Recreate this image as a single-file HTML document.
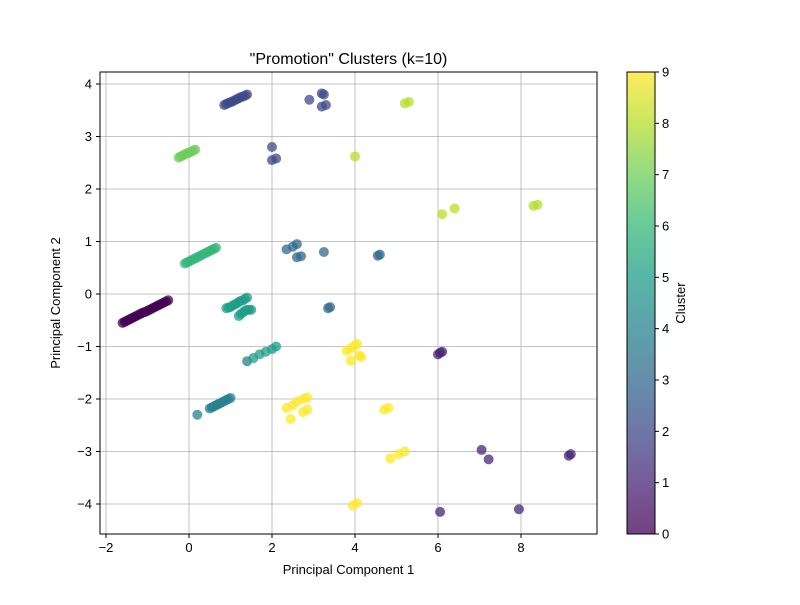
<!DOCTYPE html>
<html><head><meta charset="utf-8"><style>
body{margin:0;background:#fff;}
svg text{font-family:"Liberation Sans",sans-serif;fill:#000;}
</style></head><body>
<svg id="chart" width="800" height="600" viewBox="0 0 800 600" xmlns="http://www.w3.org/2000/svg">
<defs>
<linearGradient id="vir" x1="0" y1="1" x2="0" y2="0">
<stop offset="0" stop-color="#440154"/><stop offset="0.111" stop-color="#482576"/>
<stop offset="0.222" stop-color="#3e4989"/><stop offset="0.333" stop-color="#31688e"/>
<stop offset="0.444" stop-color="#26828e"/><stop offset="0.556" stop-color="#1f9e89"/>
<stop offset="0.667" stop-color="#35b779"/><stop offset="0.778" stop-color="#6ece58"/>
<stop offset="0.889" stop-color="#b5de2b"/><stop offset="1" stop-color="#fde725"/>
</linearGradient>
</defs>
<text x="348.5" y="64" font-size="16" text-anchor="middle">"Promotion" Clusters (k=10)</text>
<g id="grid"></g>
<g id="marks"></g>
<rect x="100" y="72" width="497" height="462" fill="none" stroke="#000" stroke-width="1"/>
<g id="axes"></g>
<text x="348.5" y="574" font-size="13" text-anchor="middle">Principal Component 1</text>
<text transform="translate(60,303) rotate(-90)" font-size="13" text-anchor="middle">Principal Component 2</text>
<rect x="627" y="72" width="28" height="462" fill="url(#vir)" fill-opacity="0.75" stroke="#000" stroke-width="1"/>
<g id="cbticks"></g>
<text transform="translate(685,303) rotate(-90)" font-size="13" text-anchor="middle">Cluster</text>
</svg>
<script>
const xTicks=[-2,0,2,4,6,8];
const yTicks=[-4,-3,-2,-1,0,1,2,3,4];
const cbTicks=[0,1,2,3,4,5,6,7,8,9];
const palette=["#440154","#482576","#3e4989","#31688e","#26828e","#1f9e89","#35b779","#6ece58","#b5de2b","#fde725"];
const px=[-1.6,-1.55,-1.5,-1.45,-1.4,-1.35,-1.3,-1.25,-1.2,-1.15,-1.1,-1.05,-1.0,-0.95,-0.9,-0.85,-0.8,-0.75,-0.7,-0.65,-0.6,-0.55,-0.5,
6.0,6.05,6.1,7.05,7.22,9.15,9.2,6.05,7.95,
0.85,0.9,0.95,1.0,1.05,1.1,1.15,1.2,1.25,1.3,1.35,1.4,2.0,2.0,2.1,2.9,3.2,3.25,3.2,3.3,
2.35,2.5,2.6,2.6,2.7,3.25,3.35,3.4,4.55,4.6,
0.5,0.55,0.6,0.65,0.7,0.75,0.8,0.85,0.9,0.95,1.0,0.2,1.4,
0.9,0.95,1.0,1.05,1.1,1.15,1.2,1.25,1.3,1.35,1.4,1.2,1.25,1.3,1.35,1.4,1.45,1.5,1.55,1.7,1.85,2.0,2.1,
-0.1,-0.05,0.0,0.05,0.1,0.15,0.2,0.25,0.3,0.35,0.4,0.45,0.5,0.55,0.6,0.65,
-0.25,-0.2,-0.15,-0.1,-0.05,0.0,0.05,0.1,0.15,
5.2,5.3,4.0,6.1,6.4,8.3,8.4,
3.8,3.9,4.0,4.05,3.9,4.1,4.15,2.35,2.5,2.6,2.75,2.85,2.45,2.75,2.85,4.7,4.8,4.85,5.05,5.2,3.95,4.05];
const py=[-0.55,-0.53,-0.51,-0.49,-0.47,-0.45,-0.43,-0.41,-0.39,-0.37,-0.35,-0.34,-0.32,-0.3,-0.28,-0.26,-0.24,-0.22,-0.2,-0.18,-0.16,-0.14,-0.12,
-1.15,-1.12,-1.1,-2.97,-3.15,-3.08,-3.05,-4.15,-4.1,
3.6,3.62,3.64,3.65,3.67,3.69,3.71,3.73,3.75,3.76,3.78,3.8,2.8,2.55,2.58,3.7,3.82,3.8,3.57,3.6,
0.85,0.9,0.95,0.7,0.72,0.8,-0.27,-0.25,0.73,0.75,
-2.18,-2.16,-2.14,-2.12,-2.1,-2.08,-2.06,-2.04,-2.02,-2.0,-1.98,-2.3,-1.28,
-0.27,-0.26,-0.25,-0.22,-0.2,-0.18,-0.15,-0.13,-0.12,-0.09,-0.07,-0.42,-0.38,-0.35,-0.32,-0.3,-0.3,-0.3,-1.22,-1.15,-1.1,-1.05,-1.0,
0.58,0.6,0.62,0.64,0.66,0.68,0.7,0.72,0.74,0.76,0.78,0.8,0.82,0.84,0.86,0.88,
2.6,2.62,2.64,2.66,2.68,2.69,2.71,2.73,2.75,
3.63,3.66,2.62,1.52,1.63,1.68,1.7,
-1.08,-1.03,-0.98,-0.95,-1.27,-1.17,-1.2,-2.17,-2.12,-2.05,-2.0,-1.97,-2.38,-2.25,-2.2,-2.2,-2.17,-3.13,-3.05,-3.0,-4.03,-3.98];
const pc=[0,0,0,0,0,0,0,0,0,0,0,0,0,0,0,0,0,0,0,0,0,0,0,
1,1,1,1,1,1,1,1,1,
2,2,2,2,2,2,2,2,2,2,2,2,2,2,2,2,2,2,2,2,
3,3,3,3,3,3,3,3,3,3,
4,4,4,4,4,4,4,4,4,4,4,4,4,
5,5,5,5,5,5,5,5,5,5,5,5,5,5,5,5,5,5,5,5,5,5,5,
6,6,6,6,6,6,6,6,6,6,6,6,6,6,6,6,
7,7,7,7,7,7,7,7,7,
8,8,8,8,8,8,8,
9,9,9,9,9,9,9,9,9,9,9,9,9,9,9,9,9,9,9,9,9,9];
const NS="http://www.w3.org/2000/svg";
const X=v=>189+v*41.5, Y=v=>294-v*52.5, CB=v=>534-v*(462/9);
function mk(t,a,p){const e=document.createElementNS(NS,t);for(const k in a)e.setAttribute(k,a[k]);p.appendChild(e);return e;}
const grid=document.getElementById('grid'),axes=document.getElementById('axes'),marks=document.getElementById('marks'),cbt=document.getElementById('cbticks');
xTicks.forEach(t=>{
 const g=mk('line',{x1:X(t),x2:X(t),y1:72,y2:534,stroke:'#b0b0b0','stroke-width':0.8},grid);
 
 
 mk('line',{x1:X(t),x2:X(t),y1:534,y2:538,stroke:'#000'},axes);
 const l=mk('text',{x:X(t),y:552,'font-size':13,'text-anchor':'middle'},axes);
 l.textContent=(t<0?'\u2212'+(-t):t);
 
 
});
yTicks.forEach(t=>{
 const g=mk('line',{x1:100,x2:597,y1:Y(t),y2:Y(t),stroke:'#b0b0b0','stroke-width':0.8},grid);
 
 
 mk('line',{x1:96,x2:100,y1:Y(t),y2:Y(t),stroke:'#000'},axes);
 const l=mk('text',{x:92,y:Y(t)+4.5,'font-size':13,'text-anchor':'end'},axes);
 l.textContent=(t<0?'\u2212'+(-t):t);
 
 
});
cbTicks.forEach(t=>{
 mk('line',{x1:655,x2:659,y1:CB(t),y2:CB(t),stroke:'#000'},cbt);
 const l=mk('text',{x:662,y:CB(t)+4.5,'font-size':13},cbt);
 l.textContent=t;
 
 
});
for(let i=0;i<px.length;i++){
 const c=mk('circle',{cx:X(px[i]),cy:Y(py[i]),r:5,fill:palette[pc[i]],'fill-opacity':0.75},marks);
 
 
}
</script>
</body></html>
